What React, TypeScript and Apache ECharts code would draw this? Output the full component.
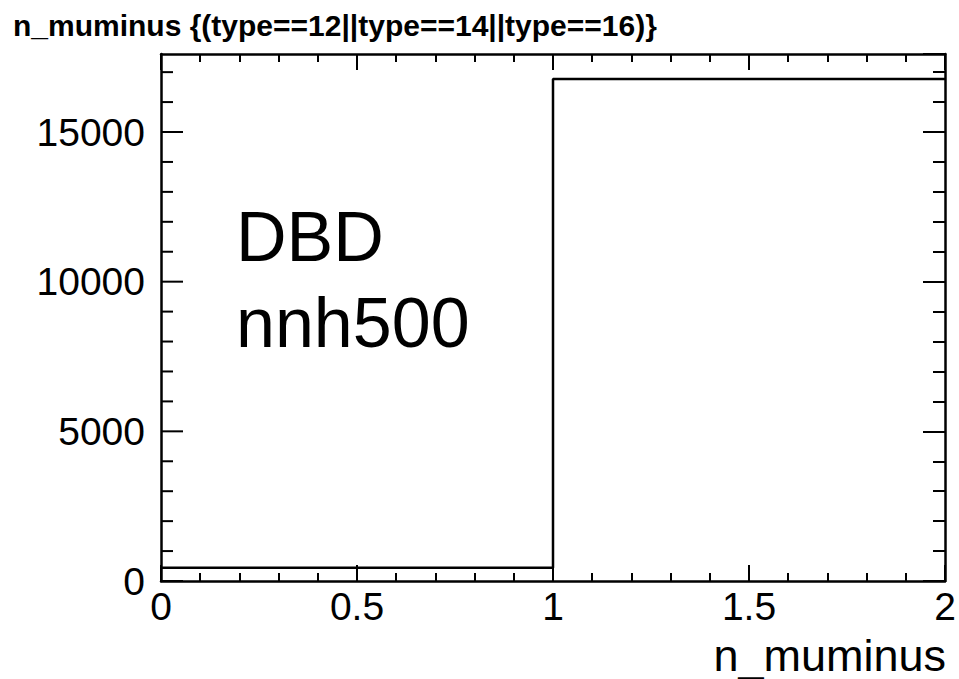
import React, { useEffect, useRef } from "react";
import * as echarts from "echarts";

const binEdges = [0, 1, 2];
const binCounts = [440, 16768];
const yMax = 17606;
const xTickLabels = ["0", "0.5", "1", "1.5", "2"];
const yTickLabels = ["0", "5000", "10000", "15000"];
const yMajorTickValues = [0, 5000, 10000, 15000];
const yMinorTickValues = [1000, 2000, 3000, 4000, 6000, 7000, 8000, 9000, 11000, 12000, 13000, 14000, 16000, 17000];
const titleText = "n_muminus {(type==12||type==14||type==16)}";
const xAxisTitle = "n_muminus";
const noteLines = ["DBD", "nnh500"];

const FONT = "'Liberation Sans', Arial, Helvetica, sans-serif";

export default function App() {
  const ref = useRef<HTMLDivElement>(null);
  useEffect(() => {
    if (!ref.current) return;
    const chart = echarts.init(ref.current, undefined, { renderer: "svg" });
    const stepData: [number, number][] = [];
    for (let i = 0; i < binCounts.length; i++) stepData.push([binEdges[i], binCounts[i]]);
    stepData.push([binEdges[binEdges.length - 1], binCounts[binCounts.length - 1]]);

    const leftTicks: [number, number, number][] = [
      ...yMajorTickValues.map((v) => [0, v, 1] as [number, number, number]),
      ...yMinorTickValues.map((v) => [0, v, 0] as [number, number, number]),
    ];

    const axisLineStyle = { color: "#000", width: 2.5 };
    const tickStyle = { color: "#000", width: 2 };
    const baseX = {
      type: "value" as const,
      min: 0,
      max: 2,
      interval: 0.5,
      splitLine: { show: false },
      minorSplitLine: { show: false },
    };
    const baseY = {
      type: "value" as const,
      min: 0,
      max: yMax,
      interval: 5000,
      splitLine: { show: false },
      minorSplitLine: { show: false },
    };
    chart.setOption({
      animation: false,
      backgroundColor: "#fff",
      grid: { left: 161, right: 14, top: 54, bottom: 98, containLabel: false },
      xAxis: [
        {
          ...baseX,
          position: "bottom",
          axisLine: { show: true, onZero: false, lineStyle: axisLineStyle },
          axisTick: { show: true, inside: true, length: 16, lineStyle: tickStyle },
          minorTick: { show: true, splitNumber: 5, length: 8, lineStyle: tickStyle },
          axisLabel: {
            show: true,
            margin: 6,
            fontSize: 39,
            fontFamily: FONT,
            color: "#000",
            formatter: (v: number) => {
              const idx = Math.round(v / 0.5);
              return xTickLabels[idx] ?? "";
            },
          },
        },
        {
          ...baseX,
          position: "top",
          axisLine: { show: true, onZero: false, lineStyle: axisLineStyle },
          axisTick: { show: true, inside: true, length: 16, lineStyle: tickStyle },
          minorTick: { show: true, splitNumber: 5, length: 8, lineStyle: tickStyle },
          axisLabel: { show: false },
        },
      ],
      yAxis: [
        {
          ...baseY,
          position: "left",
          axisLine: { show: true, onZero: false, lineStyle: axisLineStyle },
          axisTick: { show: false },
          minorTick: { show: false },
          axisLabel: {
            show: true,
            margin: 16,
            fontSize: 39,
            fontFamily: FONT,
            color: "#000",
            showMaxLabel: false,
            formatter: (v: number) => {
              const idx = Math.round(v / 5000);
              return Math.abs(v - idx * 5000) < 1e-6 ? yTickLabels[idx] ?? "" : "";
            },
          },
        },
        {
          ...baseY,
          position: "right",
          axisLine: { show: true, onZero: false, lineStyle: axisLineStyle },
          axisTick: { show: true, inside: true, length: 22, lineStyle: tickStyle },
          minorTick: { show: true, splitNumber: 5, length: 12, lineStyle: tickStyle },
          axisLabel: { show: false },
        },
      ],
      series: [
        {
          type: "line",
          xAxisIndex: 0,
          yAxisIndex: 0,
          step: "end",
          data: stepData,
          symbol: "none",
          lineStyle: { color: "#000", width: 2.5 },
          clip: false,
          z: 3,
        },
        {
          type: "custom",
          xAxisIndex: 0,
          yAxisIndex: 0,
          clip: false,
          silent: true,
          data: leftTicks,
          encode: { x: 0, y: 1 },
          renderItem: (_params: any, api: any) => {
            const p = api.coord([api.value(0), api.value(1)]);
            const len = api.value(2) ? 22 : 12;
            return {
              type: "line",
              shape: { x1: p[0], y1: p[1], x2: p[0] + len, y2: p[1] },
              style: { stroke: "#000", lineWidth: 2 },
            };
          },
          z: 4,
        },
      ],
      graphic: [
        {
          type: "text",
          left: 13,
          top: 10,
          style: {
            text: titleText,
            font: `bold 30px ${FONT}`,
            fill: "#000",
          },
        },
        {
          type: "text",
          x: 946,
          y: 672,
          style: {
            text: xAxisTitle,
            font: `45px ${FONT}`,
            lineHeight: 34,
            fill: "#000",
            textAlign: "right",
            textVerticalAlign: "bottom",
          },
        },
        {
          type: "text",
          x: 236,
          y: 194,
          style: {
            text: noteLines.join("\n"),
            font: `70px ${FONT}`,
            lineHeight: 86,
            fill: "#000",
            textAlign: "left",
            textVerticalAlign: "top",
          },
        },
      ],
    });
    return () => chart.dispose();
  }, []);
  return (
    <div
      ref={ref}
      style={{ position: "fixed", left: 0, top: 0, width: 959, height: 679 }}
    />
  );
}
